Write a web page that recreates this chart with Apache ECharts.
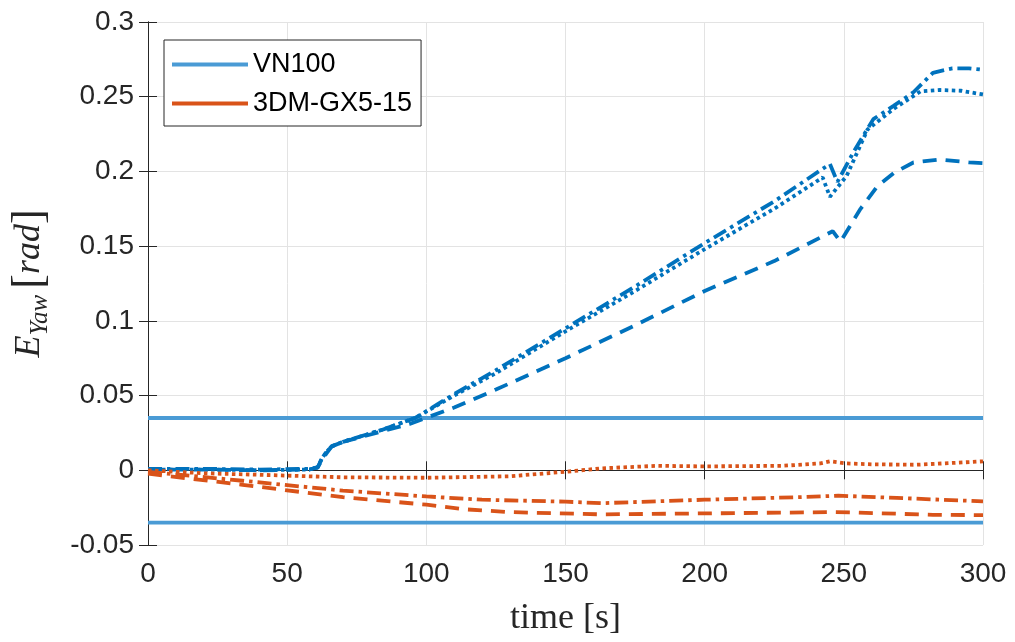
<!DOCTYPE html>
<html>
<head>
<meta charset="utf-8">
<script src="https://cdn.jsdelivr.net/npm/echarts@6/dist/echarts.min.js"></script>
<style>html,body{margin:0;padding:0;background:#fff;}#c{width:1015px;height:642px;}</style>
</head>
<body>
<div id="c"></div>
<script>
// ---- data ----
const xTicks = [0, 50, 100, 150, 200, 250, 300];
const yTicks = [-0.05, 0, 0.05, 0.1, 0.15, 0.2, 0.25, 0.3];
const yTickLabels = ['-0.05', '0', '0.05', '0.1', '0.15', '0.2', '0.25', '0.3'];

const boundT = [0, 300];
const vnUpper = [0.035, 0.035];
const vnLower = [-0.035, -0.035];

// VN100 dash-dot
const bDashDotT = [0, 20, 40, 58, 61, 62.5, 64, 66, 70, 84, 96, 110, 125, 150, 175, 200, 225, 245, 247.7, 253.5, 260.6, 268, 275, 282, 289, 295, 300];
const bDashDotV = [0.001, 0.001, 0.0005, 0.001, 0.002, 0.008, 0.012, 0.016, 0.019, 0.027, 0.035, 0.051, 0.067, 0.095, 0.123, 0.152, 0.180, 0.205, 0.193, 0.213, 0.235, 0.244, 0.253, 0.266, 0.269, 0.269, 0.268];
// VN100 dotted
const bDotT = [0, 20, 40, 58, 61, 62.5, 64, 66, 70, 84, 96, 110, 125, 150, 175, 200, 225, 242.4, 245, 251, 258.5, 268, 277.5, 284.6, 292, 300];
const bDotV = [0.0005, 0.0005, 0.0, 0.0005, 0.002, 0.008, 0.012, 0.016, 0.019, 0.027, 0.035, 0.050, 0.065, 0.093, 0.120, 0.148, 0.175, 0.196, 0.183, 0.197, 0.228, 0.242, 0.2535, 0.2545, 0.254, 0.2515];
// VN100 dashed
const bDashT = [0, 20, 40, 58, 61, 62.5, 64, 66, 70, 84, 94, 110, 125, 150, 175, 200, 225, 246, 248.8, 256, 262, 268, 275, 284.6, 295, 300];
const bDashV = [0.0005, 0.0005, 0.0, 0.0005, 0.002, 0.007, 0.011, 0.016, 0.019, 0.026, 0.031, 0.042, 0.054, 0.075, 0.097, 0.120, 0.140, 0.160, 0.153, 0.175, 0.190, 0.199, 0.206, 0.208, 0.206, 0.2055];

// 3DM-GX5-15 dotted
const oDotT = [0, 20, 40, 70, 100, 130, 150, 163, 183, 200, 228, 241.6, 245, 251, 260, 276, 290, 300];
const oDotV = [0, -0.002, -0.003, -0.0047, -0.005, -0.004, -0.001, 0.0013, 0.003, 0.0026, 0.003, 0.0046, 0.006, 0.0046, 0.004, 0.0037, 0.005, 0.006];
// 3DM-GX5-15 dash-dot
const oDashDotT = [0, 34, 70, 100, 120, 150, 163, 200, 234, 248, 269, 300];
const oDashDotV = [-0.001, -0.007, -0.0136, -0.0175, -0.0197, -0.021, -0.022, -0.0197, -0.018, -0.017, -0.0185, -0.0208];
// 3DM-GX5-15 dashed
const oDashT = [0, 34, 70, 100, 113, 130, 163, 192, 245, 253, 282, 300];
const oDashV = [-0.0023, -0.0097, -0.018, -0.023, -0.026, -0.028, -0.0295, -0.029, -0.028, -0.0282, -0.0298, -0.030];

// ---- styling ----
const C_BOUND = '#4A9BD5';
const C_BLUE = '#0072BD';
const C_ORANGE = '#D95319';
const AX = '#262626';
const TICKFONT = 'Liberation Sans, Arial, Helvetica, sans-serif';
const SERIF = 'Liberation Serif, DejaVu Serif, serif';
const LW = 3.8;

const pairs = (t, v) => t.map((x, i) => [x, v[i]]);
const yLabel = (val) => {
  let best = 0;
  for (let i = 1; i < yTicks.length; i++) if (Math.abs(yTicks[i] - val) < Math.abs(yTicks[best] - val)) best = i;
  return yTickLabels[best];
};

function line(name, t, v, color, type, z) {
  return {
    name, type: 'line', data: pairs(t, v), symbol: 'none', showSymbol: false,
    silent: true, animation: false, z: z || 3,
    lineStyle: { color, width: LW, type, cap: 'butt' },
    itemStyle: { color }
  };
}

const chart = echarts.init(document.getElementById('c'), null, { renderer: 'canvas', width: 1015, height: 642 });
const baseX = { type: 'value', min: 0, max: 300, interval: 50 };
const baseY = { type: 'value', min: -0.05, max: 0.3, interval: 0.05 };

chart.setOption({
  animation: false,
  backgroundColor: '#fff',
  grid: { left: 145, width: 838, top: 22, height: 527, containLabel: false },
  legend: {
    data: ['VN100', '3DM-GX5-15'],
    orient: 'vertical', left: 164, top: 40,
    icon: 'rect', itemWidth: 76, itemHeight: 3.8, itemGap: 12,
    padding: [11, 9, 9, 8],
    borderColor: AX, borderWidth: 1, backgroundColor: '#fff',
    textStyle: { fontFamily: TICKFONT, fontSize: 27, color: '#000', lineHeight: 26 },
    selectedMode: false
  },
  xAxis: [
    Object.assign({}, baseX, {
      position: 'bottom',
      name: 'time [s]', nameLocation: 'middle', nameGap: 56,
      nameTextStyle: { fontFamily: SERIF, fontSize: 36, color: AX },
      axisLine: { show: true, lineStyle: { color: AX, width: 1 } },
      axisTick: { show: true, inside: true, length: 9, lineStyle: { color: AX } },
      axisLabel: { margin: 15, fontFamily: TICKFONT, fontSize: 28, color: AX, formatter: (v) => String(xTicks[Math.round(v / 50)]) },
      splitLine: { show: true, lineStyle: { color: '#e3e3e3', width: 1 } }
    }),
    Object.assign({}, baseX, {
      position: 'top',
      axisLine: { show: true, lineStyle: { color: AX, width: 1 } },
      axisTick: { show: true, inside: true, length: 9, lineStyle: { color: AX } },
      axisLabel: { show: false }, splitLine: { show: false }
    })
  ],
  yAxis: [
    Object.assign({}, baseY, {
      position: 'left',
      name: '{e|E}{s|Yaw}{b|[}{r|rad}{b|]}',
      nameLocation: 'middle', nameGap: 95, nameRotate: 90,
      nameTextStyle: {
        color: AX,
        rich: {
          e: { fontFamily: SERIF, fontStyle: 'italic', fontSize: 36, color: AX, lineHeight: 46, verticalAlign: 'middle' },
          s: { fontFamily: SERIF, fontStyle: 'italic', fontSize: 25, color: AX, lineHeight: 46, verticalAlign: 'bottom', padding: [0, 6, 0, 0] },
          r: { fontFamily: SERIF, fontStyle: 'italic', fontSize: 36, color: AX, lineHeight: 46, verticalAlign: 'middle' },
          b: { fontFamily: SERIF, fontSize: 44, color: AX, lineHeight: 46, verticalAlign: 'middle' }
        }
      },
      axisLine: { show: true, lineStyle: { color: AX, width: 1 } },
      axisTick: { show: true, inside: true, length: 9, lineStyle: { color: AX } },
      axisLabel: { margin: 14, fontFamily: TICKFONT, fontSize: 28, color: AX, formatter: yLabel },
      splitLine: { show: true, lineStyle: { color: '#e3e3e3', width: 1 } }
    }),
    Object.assign({}, baseY, {
      position: 'right',
      axisLine: { show: true, lineStyle: { color: AX, width: 1 } },
      axisTick: { show: true, inside: true, length: 9, lineStyle: { color: AX } },
      axisLabel: { show: false }, splitLine: { show: false }
    })
  ],
  series: [
    line('VN100', boundT, vnUpper, C_BOUND, 'solid', 2),
    line('VN100 lower', boundT, vnLower, C_BOUND, 'solid', 2),
    line('3DM-GX5-15', [], [], C_ORANGE, 'solid', 2),
    line('VN100 dash-dot', bDashDotT, bDashDotV, C_BLUE, [14, 5, 3.5, 5]),
    line('VN100 dotted', bDotT, bDotV, C_BLUE, [3.5, 3.5]),
    line('VN100 dashed', bDashT, bDashV, C_BLUE, [14, 9]),
    line('3DM dotted', oDotT, oDotV, C_ORANGE, [3.5, 3.5]),
    line('3DM dash-dot', oDashDotT, oDashDotV, C_ORANGE, [14, 5, 3.5, 5]),
    line('3DM dashed', oDashT, oDashV, C_ORANGE, [14, 9])
  ]
});
</script>
</body>
</html>
